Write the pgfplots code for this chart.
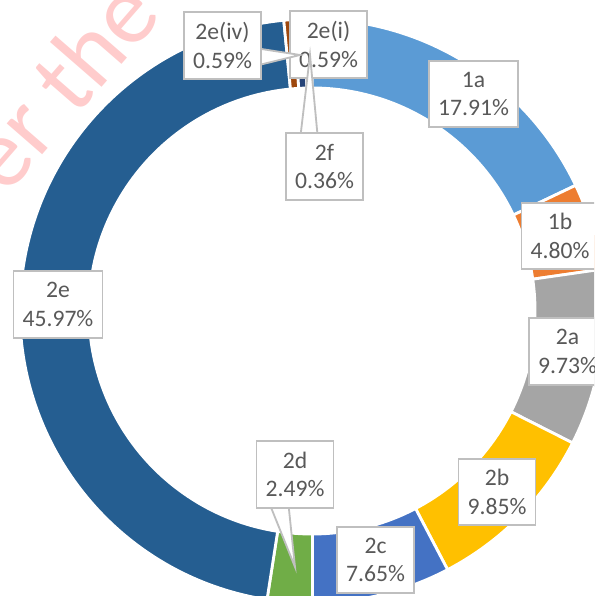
\documentclass[border=0pt]{standalone}
\usepackage{pgfplots}
\pgfplotsset{compat=1.18}
\usepackage{pgfplotstable}
\usepackage{fontspec}
\setmainfont{Carlito}

\definecolor{c1}{HTML}{5B9BD5}
\definecolor{c2}{HTML}{ED7D31}
\definecolor{c3}{HTML}{A5A5A5}
\definecolor{c4}{HTML}{FFC000}
\definecolor{c5}{HTML}{4472C4}
\definecolor{c6}{HTML}{70AD47}
\definecolor{c7}{HTML}{255E91}
\definecolor{c8}{HTML}{9E480E}
\definecolor{c9}{HTML}{264478}
\definecolor{c10}{HTML}{997300}
\definecolor{txt}{HTML}{595959}
\definecolor{boxgray}{HTML}{BFBFBF}
\definecolor{wm}{HTML}{FFCCCC}

% share of each category, clockwise from 12 o'clock
\pgfplotstableread{
label value col
1a     17.91 c1
1b      4.80 c2
2a      9.73 c3
2b      9.85 c4
2c      7.65 c5
2d      2.49 c6
2e     45.97 c7
2e(iv)  0.59 c8
2e(i)   0.59 c9
2f      0.36 c10
}\donut

\newcommand\lblfont{\fontsize{16.8}{20.2}\selectfont}

\begin{document}
\begin{tikzpicture}[
    lbl/.style={draw=boxgray, line width=1.3pt, fill=white, align=center,
        text=txt, font=\lblfont, inner xsep=6.5pt, inner ysep=0pt,
        minimum height=47.5pt},
    wedge/.style={fill=white, draw=boxgray, line width=1.3pt},
]
\begin{axis}[
    x=0.025cm, y=0.025cm,
    xmin=0, xmax=594, ymin=-596, ymax=0,
    hide axis,
]
% watermark
\node[rotate=49, anchor=base west, text=wm, inner sep=0pt,
    font=\fontsize{70}{72}\selectfont] at (axis cs:6,-197) {er the};

% donut slices
\pgfplotstablegetrowsof{\donut}
\pgfmathtruncatemacro{\last}{\pgfplotsretval-1}
\def\total{0}
\pgfplotsforeachungrouped \i in {0,...,\last}{%
  \pgfplotstablegetelem{\i}{value}\of\donut
  \pgfmathsetmacro{\total}{\total+\pgfplotsretval}%
}
\def\cum{0}
\pgfplotsforeachungrouped \i in {0,...,\last}{%
  \pgfplotstablegetelem{\i}{value}\of\donut
  \let\val\pgfplotsretval
  \pgfplotstablegetelem{\i}{col}\of\donut
  \let\col\pgfplotsretval
  \pgfmathsetmacro{\sa}{90-\cum/\total*360}%
  \pgfmathsetmacro{\cum}{\cum+\val}%
  \pgfmathsetmacro{\ea}{90-\cum/\total*360}%
  \pgfmathsetmacro{\eb}{\ea+180}%
  \edef\slice{\noexpand\fill[\col, draw=white, line width=2pt]
    (axis cs:312,-311) ++(\sa:7.3cm)
    arc[start angle=\sa, end angle=\ea, radius=7.3cm]
    -- ++(\eb:1.725cm)
    arc[start angle=\ea, end angle=\sa, radius=5.575cm] -- cycle;}%
  \slice
}

% data labels
\node[lbl] at (axis cs:328.5,-44.5) {2e(i)\\0.59\%};
\fill[wedge] (axis cs:255,-48) -- (axis cs:300,-55) -- (axis cs:255,-66) -- cycle;
\node[lbl] at (axis cs:222.5,-45.5) {2e(iv)\\0.59\%};
\fill[wedge] (axis cs:300,-140) -- (axis cs:310,-55) -- (axis cs:318,-140) -- cycle;
\node[lbl] at (axis cs:324.5,-166.5) {2f\\0.36\%};
\fill[wedge] (axis cs:268,-500) -- (axis cs:295,-567) -- (axis cs:288,-500) -- cycle;
\node[lbl] at (axis cs:295,-474.5) {2d\\2.49\%};
\node[lbl] at (axis cs:473.5,-94) {1a\\17.91\%};
\node[lbl] at (axis cs:560,-236) {1b\\4.80\%};
\node[lbl] at (axis cs:567.5,-351.5) {2a\\9.73\%};
\node[lbl] at (axis cs:497,-492) {2b\\9.85\%};
\node[lbl] at (axis cs:375.5,-560) {2c\\7.65\%};
\node[lbl] at (axis cs:58,-304.5) {2e\\45.97\%};
\end{axis}
\pgfresetboundingbox
\useasboundingbox (current axis.south west) rectangle (current axis.north east);
\end{tikzpicture}
\end{document}
